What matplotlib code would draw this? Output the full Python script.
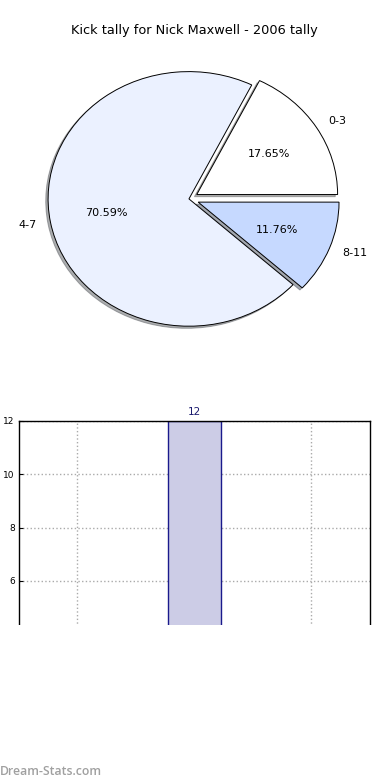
import matplotlib
matplotlib.use("Agg")
import matplotlib.pyplot as plt
from matplotlib.patches import Rectangle

# pie data
pie_labels = ["0-3", "4-7", "8-11"]
pie_values = [3, 12, 2]
pie_colors = ["#ffffff", "#ebf1ff", "#c6d9ff"]
pie_explode = [0.065, 0.0, 0.07]

# bar data
bar_categories = [""]
bar_values = [12]
bar_ticks = [6, 8, 10, 12]

title = "Kick tally for Nick Maxwell - 2006 tally"

fig = plt.figure(figsize=(3.9, 7.8), dpi=100)

### pie (stretched like the old matplotlib default)
ax1 = fig.add_axes([0.033, 0.541, 0.903, 0.408])
ax1.pie(pie_values, labels=pie_labels, colors=pie_colors, explode=pie_explode,
        autopct="%.2f%%", startangle=0,
        shadow=dict(ox=-0.012, oy=-0.012, shade=0.62),
        wedgeprops=dict(edgecolor="black", linewidth=0.7),
        textprops=dict(fontsize=8))
ax1.set_aspect("auto")
ax1.set_xlim(-1.25, 1.25)
ax1.set_ylim(-1.25, 1.25)
ax1.set_title(title, fontsize=9.3, pad=4.5, x=0.514)

### bar chart, lower part is cut off in the picture
ax2 = fig.add_axes([0.0487, 0.05, 0.9, 0.4103])
positions = list(range(len(bar_categories)))
bars = ax2.bar(positions, bar_values, width=0.45, color="#ccccE6",
               edgecolor="#1a1a8c", linewidth=1.0, zorder=2)
for rect, val in zip(bars, bar_values):
    ax2.text(rect.get_x() + rect.get_width() / 2, val + 0.15, str(val),
             ha="center", va="bottom", fontsize=7.5, color="#1a1a6e")
ax2.set_xlim(-1.5, 1.5)
ax2.set_ylim(0, 12)
ax2.set_xticks([-1, 0, 1])
ax2.set_xticklabels([])
ax2.set_yticks(bar_ticks)
ax2.tick_params(direction="in", labelsize=6.5, length=3, pad=3)
ax2.grid(True, linestyle=":", color="#aaaaaa", linewidth=1.0, zorder=0)
ax2.set_axisbelow(True)
ax2.set_ylabel("Total Kicks", fontsize=7, labelpad=4)
for s in ax2.spines.values():
    s.set_linewidth(1.0)

# white band covering the cut-off bottom of the chart
fig.patches.append(Rectangle((0, 0), 1, 155 / 780, transform=fig.transFigure,
                             facecolor="white", edgecolor="none", zorder=10))
fig.text(0.0, 0.003, "Dream-Stats.com", fontsize=8.8, color="#a0a0a0",
         fontfamily="Open Sans", fontweight="semibold",
         ha="left", va="bottom", zorder=11)

fig.savefig("out.png", dpi=100)
